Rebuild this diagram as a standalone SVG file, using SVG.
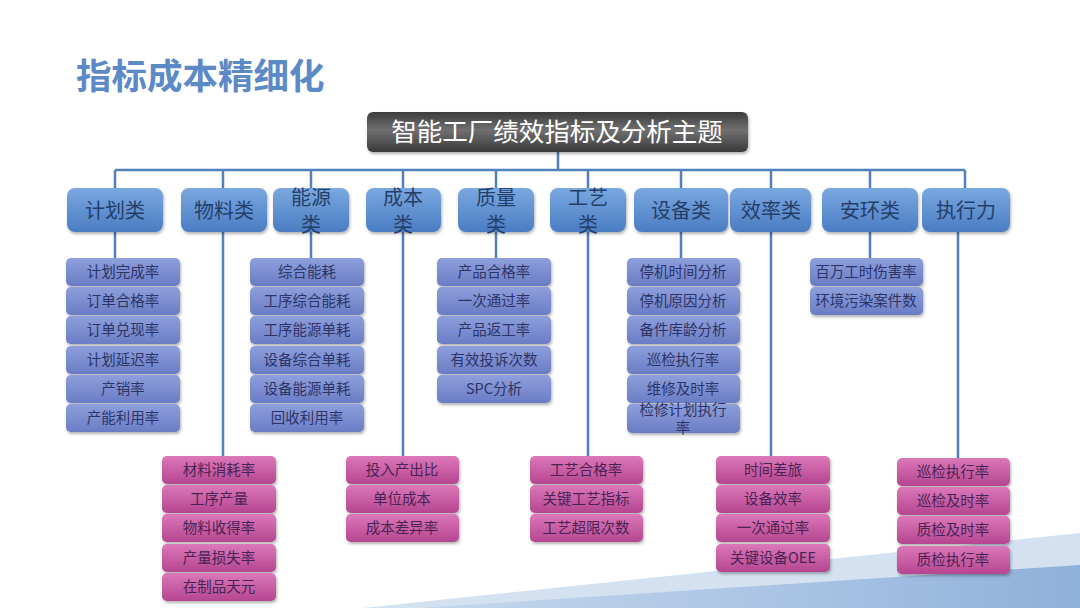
<svg xmlns="http://www.w3.org/2000/svg" width="1080" height="608" viewBox="0 0 1080 608">
<defs>
<linearGradient id="gRoot" x1="0" y1="0" x2="0" y2="1">
<stop offset="0" stop-color="#3c3c3c"/><stop offset="0.45" stop-color="#707070"/><stop offset="1" stop-color="#3a3a3a"/>
</linearGradient>
<linearGradient id="gCat" x1="0" y1="0" x2="0" y2="1">
<stop offset="0" stop-color="#7aa8e0"/><stop offset="1" stop-color="#4a7cc2"/>
</linearGradient>
<linearGradient id="gSub" x1="0" y1="0" x2="0" y2="1">
<stop offset="0" stop-color="#8e9fdc"/><stop offset="1" stop-color="#6a7cc4"/>
</linearGradient>
<linearGradient id="gPink" x1="0" y1="0" x2="0" y2="1">
<stop offset="0" stop-color="#dc78b9"/><stop offset="1" stop-color="#b54690"/>
</linearGradient>
<linearGradient id="gBand" x1="0" y1="0" x2="1" y2="0">
<stop offset="0" stop-color="#9fbde0" stop-opacity="0.3"/><stop offset="1" stop-color="#8fb0da"/>
</linearGradient>
<filter id="sh" x="-10%" y="-20%" width="120%" height="150%">
<feDropShadow dx="1" dy="2" stdDeviation="1.5" flood-color="#000" flood-opacity="0.3"/>
</filter>
<style>
.t{font-family:"Noto Sans CJK SC","Liberation Sans",sans-serif;text-anchor:middle}
.cat rect{fill:url(#gCat);filter:url(#sh)}
.cat text{font-size:20px;fill:#24406a}
.sub rect{fill:url(#gSub);filter:url(#sh)}
.sub text{font-size:14.5px;fill:#2c3568}
.pk rect{fill:url(#gPink);filter:url(#sh)}
.pk text{font-size:14.5px;fill:#4a2356}
.ln{stroke:#4f81bd;stroke-width:2.5;fill:none}
</style>
</defs>
<rect width="1080" height="608" fill="#ffffff"/>
<polygon points="363,608 1080,533 1080,608" fill="#d3e1f1"/>
<polygon points="420,608 1080,565 1080,608" fill="url(#gBand)"/>
<text x="76" y="89" font-family="Noto Sans CJK SC,Liberation Sans,sans-serif" font-size="35.5" font-weight="bold" fill="#5b8ac6">指标成本精细化</text>

<g id="connectors" class="ln">
<path d="M558 152V170M115 170H965"/>
<path d="M115 170V188M223 170V188M311 170V188M403 170V188M496 170V188M588 170V188M681 170V188M771 170V188M870 170V188M965 170V188"/>
<path d="M115 232V258M223 232V456M311 232V258M403 232V456M496 232V258M588 232V456M681 232V258M771 232V456M870 232V258M958 232V458"/>
</g>

<g id="root">
<rect x="367" y="112" width="381" height="40" rx="6" fill="url(#gRoot)" filter="url(#sh)"/>
<text class="t" x="557" y="141" font-size="25.5" fill="#ffffff">智能工厂绩效指标及分析主题</text>
</g>

<g class="t cat">
<g id="c1"><rect x="67" y="188" width="96" height="44" rx="8"/><text x="115" y="218">计划类</text></g>
<g id="c2"><rect x="181" y="188" width="86" height="44" rx="8"/><text x="224" y="218">物料类</text></g>
<g id="c3"><rect x="273" y="188" width="76" height="44" rx="8"/><text x="311" y="205">能源</text><text x="311" y="232">类</text></g>
<g id="c4"><rect x="366" y="188" width="75" height="44" rx="8"/><text x="403" y="205">成本</text><text x="403" y="232">类</text></g>
<g id="c5"><rect x="458" y="188" width="76" height="44" rx="8"/><text x="496" y="205">质量</text><text x="496" y="232">类</text></g>
<g id="c6"><rect x="550" y="188" width="76" height="44" rx="8"/><text x="588" y="205">工艺</text><text x="588" y="232">类</text></g>
<g id="c7"><rect x="634" y="188" width="94" height="44" rx="8"/><text x="681" y="218">设备类</text></g>
<g id="c8"><rect x="730" y="188" width="81" height="44" rx="8"/><text x="771" y="218">效率类</text></g>
<g id="c9"><rect x="822" y="188" width="96" height="44" rx="8"/><text x="870" y="218">安环类</text></g>
<g id="c10"><rect x="922" y="188" width="88" height="44" rx="8"/><text x="966" y="218">执行力</text></g>
</g>

<g class="t sub">
<g id="s-jh">
<rect x="66" y="258" width="114" height="28" rx="5"/><text x="123" y="277">计划完成率</text>
<rect x="66" y="287" width="114" height="28" rx="5"/><text x="123" y="306">订单合格率</text>
<rect x="66" y="316" width="114" height="28" rx="5"/><text x="123" y="335">订单兑现率</text>
<rect x="66" y="346" width="114" height="28" rx="5"/><text x="123" y="365">计划延迟率</text>
<rect x="66" y="375" width="114" height="28" rx="5"/><text x="123" y="394">产销率</text>
<rect x="66" y="404" width="114" height="28" rx="5"/><text x="123" y="423">产能利用率</text>
</g>
<g id="s-ny">
<rect x="250" y="258" width="114" height="28" rx="5"/><text x="307" y="277">综合能耗</text>
<rect x="250" y="287" width="114" height="28" rx="5"/><text x="307" y="306">工序综合能耗</text>
<rect x="250" y="316" width="114" height="28" rx="5"/><text x="307" y="335">工序能源单耗</text>
<rect x="250" y="346" width="114" height="28" rx="5"/><text x="307" y="365">设备综合单耗</text>
<rect x="250" y="375" width="114" height="28" rx="5"/><text x="307" y="394">设备能源单耗</text>
<rect x="250" y="404" width="114" height="28" rx="5"/><text x="307" y="423">回收利用率</text>
</g>
<g id="s-zl">
<rect x="437" y="258" width="114" height="28" rx="5"/><text x="494" y="277">产品合格率</text>
<rect x="437" y="287" width="114" height="28" rx="5"/><text x="494" y="306">一次通过率</text>
<rect x="437" y="316" width="114" height="28" rx="5"/><text x="494" y="335">产品返工率</text>
<rect x="437" y="346" width="114" height="28" rx="5"/><text x="494" y="365">有效投诉次数</text>
<rect x="437" y="375" width="114" height="28" rx="5"/><text x="494" y="394">SPC分析</text>
</g>
<g id="s-sb">
<rect x="627" y="258" width="113" height="28" rx="5"/><text x="683" y="277">停机时间分析</text>
<rect x="627" y="287" width="113" height="28" rx="5"/><text x="683" y="306">停机原因分析</text>
<rect x="627" y="316" width="113" height="28" rx="5"/><text x="683" y="335">备件库龄分析</text>
<rect x="627" y="346" width="113" height="28" rx="5"/><text x="683" y="365">巡检执行率</text>
<rect x="627" y="375" width="113" height="28" rx="5"/><text x="683" y="394">维修及时率</text>
<rect x="627" y="404" width="113" height="29" rx="5"/><text x="683" y="415">检修计划执行<tspan x="683" dy="18">率</tspan></text>
</g>
<g id="s-ah">
<rect x="810" y="258" width="113" height="28" rx="5"/><text x="866" y="277">百万工时伤害率</text>
<rect x="810" y="287" width="113" height="28" rx="5"/><text x="866" y="306">环境污染案件数</text>
</g>
</g>

<g class="t pk">
<g id="p-wl">
<rect x="162" y="456" width="114" height="28" rx="5"/><text x="219" y="475">材料消耗率</text>
<rect x="162" y="485" width="114" height="28" rx="5"/><text x="219" y="504">工序产量</text>
<rect x="162" y="514" width="114" height="28" rx="5"/><text x="219" y="533">物料收得率</text>
<rect x="162" y="544" width="114" height="28" rx="5"/><text x="219" y="563">产量损失率</text>
<rect x="162" y="573" width="114" height="28" rx="5"/><text x="219" y="592">在制品天元</text>
</g>
<g id="p-cb">
<rect x="346" y="456" width="113" height="28" rx="5"/><text x="402" y="475">投入产出比</text>
<rect x="346" y="485" width="113" height="28" rx="5"/><text x="402" y="504">单位成本</text>
<rect x="346" y="514" width="113" height="28" rx="5"/><text x="402" y="533">成本差异率</text>
</g>
<g id="p-gy">
<rect x="530" y="456" width="113" height="28" rx="5"/><text x="586" y="475">工艺合格率</text>
<rect x="530" y="485" width="113" height="28" rx="5"/><text x="586" y="504">关键工艺指标</text>
<rect x="530" y="514" width="113" height="28" rx="5"/><text x="586" y="533">工艺超限次数</text>
</g>
<g id="p-xl">
<rect x="716" y="456" width="114" height="28" rx="5"/><text x="773" y="475">时间差旅</text>
<rect x="716" y="485" width="114" height="28" rx="5"/><text x="773" y="504">设备效率</text>
<rect x="716" y="514" width="114" height="28" rx="5"/><text x="773" y="533">一次通过率</text>
<rect x="716" y="544" width="114" height="28" rx="5"/><text x="773" y="563">关键设备OEE</text>
</g>
<g id="p-zx">
<rect x="897" y="458" width="113" height="28" rx="5"/><text x="953" y="477">巡检执行率</text>
<rect x="897" y="487" width="113" height="28" rx="5"/><text x="953" y="506">巡检及时率</text>
<rect x="897" y="516" width="113" height="28" rx="5"/><text x="953" y="535">质检及时率</text>
<rect x="897" y="546" width="113" height="28" rx="5"/><text x="953" y="565">质检执行率</text>
</g>
</g>
</svg>
